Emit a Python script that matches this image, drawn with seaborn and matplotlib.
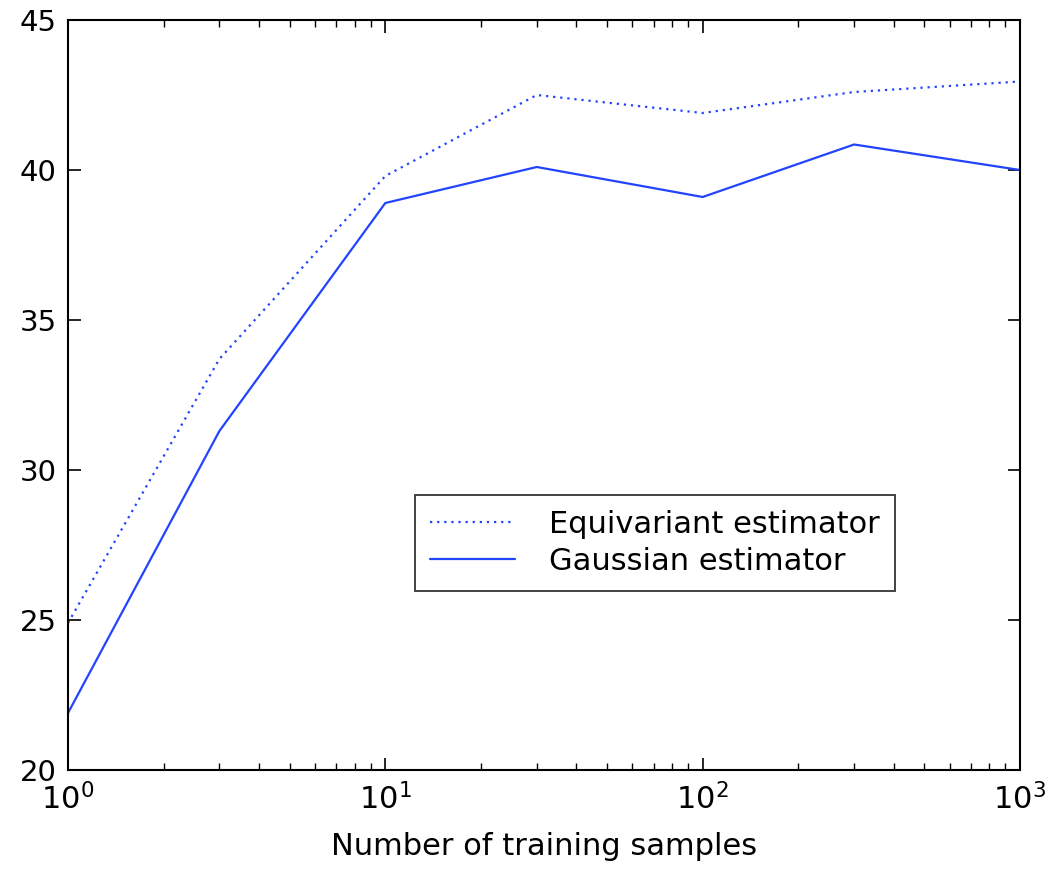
import matplotlib
matplotlib.use("Agg")
import matplotlib.pyplot as plt
import seaborn as sns
from matplotlib.ticker import LogLocator, FixedLocator, FuncFormatter
import numpy as np

samples = [1, 3, 10, 30, 100, 300, 1000]
equivariant = [24.9, 33.7, 39.8, 42.5, 41.9, 42.6, 42.95]
gaussian = [21.9, 31.3, 38.9, 40.1, 39.1, 40.85, 40.0]
series_names = ["Equivariant estimator", "Gaussian estimator"]
y_ticks = [20, 25, 30, 35, 40, 45]
x_label = "Number of training samples"

sns.set_theme(style="white")
plt.rcParams['font.family'] = ['DejaVu Sans']
plt.rcParams['mathtext.fontset'] = 'dejavusans'

fig = plt.figure(figsize=(10.5, 8.71), dpi=100)
ax = fig.add_axes([68/1050, 1-770/871, (1020-68)/1050, (770-20)/871])

blue = "#2244ff"
sns.lineplot(x=samples, y=equivariant, ax=ax, color=blue, linestyle=(0, (1, 2.2)),
             linewidth=1.6, label=series_names[0])
sns.lineplot(x=samples, y=gaussian, ax=ax, color=blue, linestyle="-",
             linewidth=1.6, label=series_names[1])

ax.set_xscale("log")
ax.set_xlim(1, 1000)
ax.set_ylim(20, 45)
ax.yaxis.set_major_locator(FixedLocator(y_ticks))
ax.xaxis.set_major_locator(LogLocator(base=10))
ax.xaxis.set_minor_locator(LogLocator(base=10, subs=range(2, 10)))
ax.xaxis.set_major_formatter(FuncFormatter(
    lambda v, p: r"$\mathregular{10^{%d}}$" % int(round(np.log10(v)))))

for s in ax.spines.values():
    s.set_visible(True)
    s.set_color("black")
    s.set_linewidth(1.5)

ax.tick_params(axis="both", which="major", direction="in", length=9, width=1.2,
               top=True, right=True, bottom=True, left=True, labelsize=21, colors="black")
ax.tick_params(axis="y", which="major", pad=8)
ax.tick_params(axis="x", which="major", pad=9, labelsize=22)
ax.tick_params(axis="x", which="minor", direction="in", length=5, width=1.0,
               top=True, bottom=True, colors="black")

ax.set_xlabel(x_label, fontsize=22, color="black", labelpad=12)
ax.set_ylabel("")

leg = ax.legend(loc="upper left", bbox_to_anchor=(0.364, 0.367), fontsize=22,
                frameon=True, fancybox=False, edgecolor="black", handlelength=2.8,
                borderpad=0.5, borderaxespad=0.0, labelspacing=0.25, handletextpad=1.1)
leg.get_frame().set_linewidth(1.3)
for t in leg.get_texts():
    t.set_color("black")

fig.savefig("out.png", dpi=100)
